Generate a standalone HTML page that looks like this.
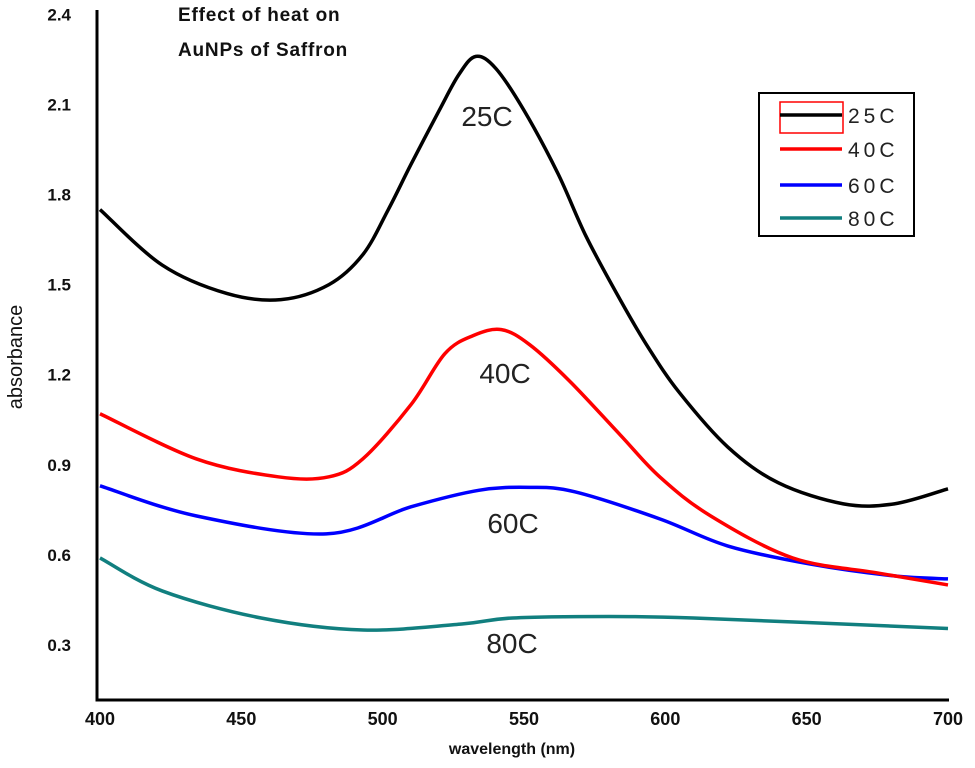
<!DOCTYPE html>
<html><head><meta charset="utf-8"><style>
html,body{margin:0;padding:0;background:#fff;}
svg{display:block;font-family:"Liberation Sans",Arial,sans-serif;}
</style></head><body>
<svg id="chart" width="975" height="768"></svg>
<script>
const wl25=[400,422,445,464,481,493,502,510,520,527,533,540,550,562,572,584,594,605,622,640,663,681,700];
const ab25=[1.75,1.565,1.47,1.45,1.50,1.60,1.75,1.9,2.08,2.2,2.26,2.22,2.08,1.87,1.66,1.45,1.29,1.14,0.96,0.84,0.77,0.77,0.82];
const wl40=[400,434,463,481,493,510,522,532,542,552,566,584,598,616,645,675,700];
const ab40=[1.07,0.92,0.86,0.86,0.92,1.10,1.27,1.33,1.35,1.30,1.18,1.0,0.86,0.73,0.59,0.54,0.50];
const wl60=[400,434,480,510,534,552,568,598,622,651,681,700];
const ab60=[0.83,0.73,0.67,0.76,0.815,0.825,0.81,0.72,0.63,0.57,0.53,0.52];
const wl80=[400,422,457,493,528,546,580,610,650,700];
const ab80=[0.59,0.48,0.39,0.35,0.37,0.39,0.395,0.39,0.375,0.355];
const xTicks=[400,450,500,550,600,650,700];
const yTicks=[0.3,0.6,0.9,1.2,1.5,1.8,2.1,2.4];
const seriesNames=["25C","40C","60C","80C"];
const colors=["#000","#ff0000","#0000ff","#117f7f"];

const NS="http://www.w3.org/2000/svg";
const svg=document.getElementById('chart');
function X(v){return 100+(v-400)*(848/300);}
function Y(v){return 645-(v-0.3)*(90.1/0.3);}
function mk(tag,attrs,parent){const e=document.createElementNS(NS,tag);for(const k in attrs)e.setAttribute(k,attrs[k]);(parent||svg).appendChild(e);return e;}
function txt(s,attrs){const e=mk('text',attrs);e.textContent=s;return e;}

let e=mk('path',{d:'M97 10 V700 H949',fill:'none',stroke:'#000','stroke-width':3});


xTicks.forEach(t=>{
  const l=txt(String(t),{x:X(t),y:725,'text-anchor':'middle','font-size':18,'font-weight':'bold',fill:'#111'});
  
  
});
yTicks.forEach(t=>{
  const l=txt(t.toFixed(1),{x:71,y:Y(t)+6,'text-anchor':'end','font-size':17,'font-weight':'bold',fill:'#111'});
  
  
});
e=txt('wavelength (nm)',{x:512,y:754,'text-anchor':'middle','font-size':16,'font-weight':'bold',fill:'#111'});


e=txt('absorbance',{x:0,y:0,transform:'translate(22,357) rotate(-90)','text-anchor':'middle','font-size':20,fill:'#111'});


e=txt('Effect of heat on',{x:178,y:21,'font-size':19,'font-weight':'bold',fill:'#111','letter-spacing':'0.8'});


e=txt('AuNPs of Saffron',{x:178,y:56,'font-size':19,'font-weight':'bold',fill:'#111','letter-spacing':'0.8'});



function smooth(xs,ys){
  const p=xs.map((x,i)=>[X(x),Y(ys[i])]);
  let d='M'+p[0][0]+' '+p[0][1];
  for(let i=0;i<p.length-1;i++){
    const p0=p[Math.max(0,i-1)],p1=p[i],p2=p[i+1],p3=p[Math.min(p.length-1,i+2)];
    const c1=[p1[0]+(p2[0]-p0[0])/6,p1[1]+(p2[1]-p0[1])/6];
    const c2=[p2[0]-(p3[0]-p1[0])/6,p2[1]-(p3[1]-p1[1])/6];
    d+=' C'+c1+' '+c2+' '+p2;
  }
  return d;
}
const all=[[wl25,ab25],[wl40,ab40],[wl60,ab60],[wl80,ab80]];
[3,2,1,0].forEach(i=>{
  const s=all[i];
  const l=mk('path',{d:smooth(s[0],s[1]),fill:'none',stroke:colors[i],'stroke-width':3.5});
  
  
});
[[487,126],[505,383],[513,533],[512,653]].forEach((p,i)=>{
  const l=txt(seriesNames[i],{x:p[0],y:p[1],'text-anchor':'middle','font-size':28,fill:'#222'});
  
  
});
const g=mk('g',{});


mk('rect',{x:759,y:93,width:155,height:143,fill:'#fff',stroke:'#000','stroke-width':2},g);
mk('rect',{x:780,y:102,width:63,height:31,fill:'none',stroke:'#ff0000','stroke-width':1.5},g);
[115,149,185,218].forEach((yy,i)=>{
  const r=mk('g',{},g);
  
  
  mk('line',{x1:780,y1:yy,x2:842,y2:yy,stroke:colors[i],'stroke-width':3.5},r);
  const t=mk('text',{x:848,y:yy+8,'font-size':21,fill:'#222','letter-spacing':'4'},r);
  t.textContent=seriesNames[i];
});
</script>
</body></html>
